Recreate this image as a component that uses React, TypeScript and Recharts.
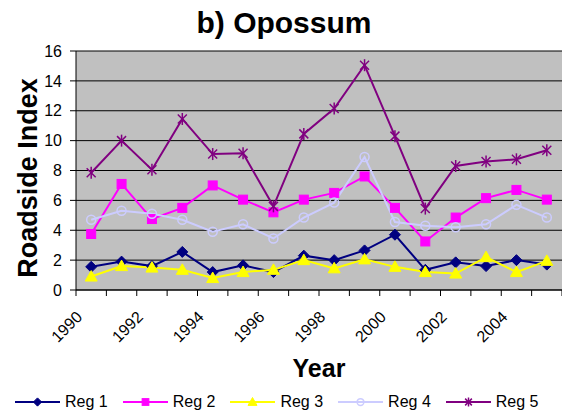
import { LineChart, Line, XAxis, YAxis, CartesianGrid, Legend, Label } from 'recharts';

const YEARS = ['1990', '1991', '1992', '1993', '1994', '1995', '1996', '1997', '1998', '1999', '2000', '2001', '2002', '2003', '2004', '2005'];
const REG1 = [1.55, 1.9, 1.6, 2.55, 1.2, 1.65, 1.2, 2.3, 2.0, 2.65, 3.7, 1.35, 1.85, 1.6, 2.0, 1.7];
const REG2 = [3.75, 7.1, 4.75, 5.5, 7.0, 6.05, 5.2, 6.05, 6.5, 7.6, 5.5, 3.25, 4.85, 6.15, 6.7, 6.05];
const REG3 = [0.9, 1.6, 1.5, 1.35, 0.8, 1.2, 1.35, 2.0, 1.45, 2.05, 1.55, 1.2, 1.1, 2.2, 1.2, 1.95];
const REG4 = [4.7, 5.3, 5.1, 4.7, 3.9, 4.4, 3.45, 4.85, 5.85, 8.9, 4.55, 4.3, 4.2, 4.4, 5.7, 4.85];
const REG5 = [7.85, 10.0, 8.05, 11.45, 9.1, 9.15, 5.6, 10.45, 12.15, 15.05, 10.3, 5.45, 8.3, 8.6, 8.75, 9.35];
const Y_TICKS = [0, 2, 4, 6, 8, 10, 12, 14, 16];

const data = YEARS.map((year, i) => ({
  year,
  reg1: REG1[i],
  reg2: REG2[i],
  reg3: REG3[i],
  reg4: REG4[i],
  reg5: REG5[i],
}));

const W = 562;
const H = 417;
const PLOT_LEFT = 76;
const BW = (W - PLOT_LEFT) / YEARS.length;
const FONT = '"Liberation Sans", Arial, sans-serif';

type MarkerKind = 'diamond' | 'square' | 'triangle' | 'circle' | 'star';

const SERIES: { key: string; name: string; color: string; marker: MarkerKind }[] = [
  { key: 'reg1', name: 'Reg 1', color: '#000080', marker: 'diamond' },
  { key: 'reg2', name: 'Reg 2', color: '#FF00FF', marker: 'square' },
  { key: 'reg3', name: 'Reg 3', color: '#FFFF00', marker: 'triangle' },
  { key: 'reg4', name: 'Reg 4', color: '#CCCCFF', marker: 'circle' },
  { key: 'reg5', name: 'Reg 5', color: '#800080', marker: 'star' },
];

function Marker({ kind, cx, cy, color, s = 1 }: { kind: MarkerKind; cx: number; cy: number; color: string; s?: number }) {
  if (cx == null || cy == null) return null;
  switch (kind) {
    case 'diamond':
      return <polygon points={`${cx},${cy - 5.5 * s} ${cx + 5.5 * s},${cy} ${cx},${cy + 5.5 * s} ${cx - 5.5 * s},${cy}`} fill={color} stroke={color} />;
    case 'square':
      return <rect x={cx - 4.5 * s} y={cy - 4.5 * s} width={9 * s} height={9 * s} fill={color} stroke={color} />;
    case 'triangle':
      return <polygon points={`${cx},${cy - 6 * s} ${cx + 6 * s},${cy + 4.5 * s} ${cx - 6 * s},${cy + 4.5 * s}`} fill={color} stroke={color} />;
    case 'circle':
      return <circle cx={cx} cy={cy} r={4.5 * s} fill="none" stroke={color} strokeWidth={1.5} />;
    case 'star': {
      const a = 4.5 * s;
      return (
        <g stroke={color} strokeWidth={1.5}>
          <line x1={cx - a} y1={cy - a} x2={cx + a} y2={cy + a} />
          <line x1={cx - a} y1={cy + a} x2={cx + a} y2={cy - a} />
          <line x1={cx} y1={cy - 6 * s} x2={cx} y2={cy + 6 * s} />
        </g>
      );
    }
  }
  return null;
}

function XTick(props: any) {
  const { x, y, payload, index } = props;
  const half = BW / 2;
  const tx = x - 8;
  const ty = y + 28;
  return (
    <g>
      <line x1={x - half} x2={x - half} y1={y} y2={y + 6} stroke="#000" />
      {index === YEARS.length - 1 && <line x1={x + half} x2={x + half} y1={y} y2={y + 6} stroke="#000" />}
      {index % 2 === 0 && (
        <text x={tx} y={ty} transform={`rotate(-45 ${tx} ${ty})`} textAnchor="end" fontSize={16} fontFamily={FONT} fill="#000">
          {payload.value}
        </text>
      )}
    </g>
  );
}

function LegendBox() {
  return (
    <div style={{ display: 'flex', alignItems: 'center', height: 31, paddingLeft: 15, fontFamily: FONT, fontSize: 16, color: '#000' }}>
      {SERIES.map(s => (
        <div key={s.key} style={{ display: 'flex', alignItems: 'center', marginRight: 15 }}>
          <svg width={45} height={14}>
            <line x1={0} y1={7} x2={45} y2={7} stroke={s.color} strokeWidth={2} />
            <Marker kind={s.marker} cx={22.5} cy={7} color={s.color} s={0.75} />
          </svg>
          <span style={{ marginLeft: 5 }}>{s.name}</span>
        </div>
      ))}
    </div>
  );
}

export default function App() {
  return (
    <div style={{ position: 'absolute', left: 0, top: 0, width: W, height: H, background: '#fff' }}>
      <div style={{ position: 'absolute', top: 8, left: 3, width: W, textAlign: 'center', fontFamily: FONT, fontWeight: 700, fontSize: 30, lineHeight: '30px' }}>
        b) Opossum
      </div>
      <LineChart width={W} height={H} data={data} margin={{ top: 51, right: 0, left: 0, bottom: 0 }}>
        <CartesianGrid vertical={false} stroke="#000" fill="#C0C0C0" fillOpacity={1} />
        <XAxis
          dataKey="year"
          interval={0}
          height={96}
          padding={{ left: BW / 2, right: BW / 2 }}
          axisLine={{ stroke: '#000' }}
          tickLine={false}
          tickSize={0}
          tickMargin={0}
          tick={<XTick />}
        >
          <Label
            content={({ viewBox }: any) => (
              <text x={viewBox.x + viewBox.width / 2} y={viewBox.y + 87} textAnchor="middle" fontFamily={FONT} fontWeight={700} fontSize={25} fill="#000">
                Year
              </text>
            )}
          />
        </XAxis>
        <YAxis
          domain={[0, 16]}
          ticks={Y_TICKS}
          width={PLOT_LEFT}
          axisLine={{ stroke: '#000' }}
          tickLine={{ stroke: '#000' }}
          tickSize={6}
          tickMargin={8}
          tick={{ fill: '#000', fontSize: 16, fontFamily: FONT }}
        >
          <Label
            content={({ viewBox }: any) => {
              const lx = 37;
              const ly = viewBox.y + 127;
              return (
                <text x={lx} y={ly} transform={`rotate(-90 ${lx} ${ly})`} textAnchor="middle" fontFamily={FONT} fontWeight={700} fontSize={27} fill="#000">
                  Roadside Index
                </text>
              );
            }}
          />
        </YAxis>
        <Legend verticalAlign="bottom" height={31} content={() => <LegendBox />} />
        {SERIES.map(s => (
          <Line
            key={s.key}
            dataKey={s.key}
            name={s.name}
            stroke={s.color}
            strokeWidth={2}
            isAnimationActive={false}
            dot={(p: any) => <Marker key={`${s.key}-${p.index}`} kind={s.marker} cx={p.cx} cy={p.cy} color={s.color} />}
          />
        ))}
      </LineChart>
    </div>
  );
}
